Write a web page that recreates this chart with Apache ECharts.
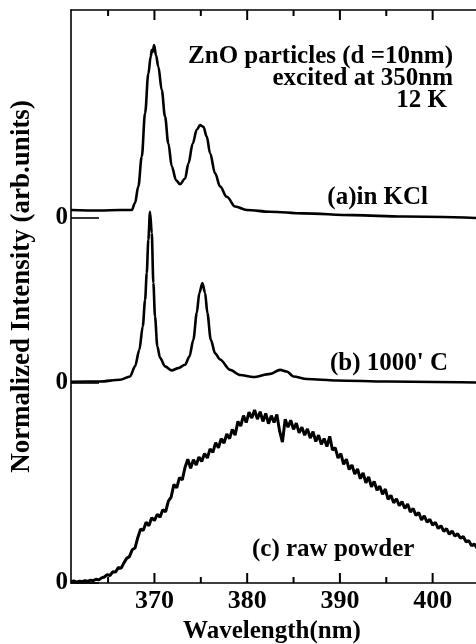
<!DOCTYPE html>
<html>
<head>
<meta charset="utf-8">
<script src="https://cdn.jsdelivr.net/npm/echarts@6/dist/echarts.min.js"></script>
<style>html,body{margin:0;padding:0;background:#fff}#chart{width:476px;height:644px}</style>
</head>
<body>
<div id="chart"></div>
<script>
// ---- data (wavelength nm, normalized intensity relative to each curve's own zero) ----
var offsets = [63.7, 35, 0];          // vertical offsets of curves (a), (b), (c)
var zeroLabels = ['0', '0', '0'];
var xMajorTicks = [370, 380, 390, 400];
var xMinorTicks = [365, 375, 385, 395];

var curveA = [
  [361.0,1.4],[364.1,1.3],[366.3,1.4],[367.55,1.4],[367.9,2.6],[368.26,5.5],[368.63,10.7],
  [368.99,18.3],[369.34,25.2],[369.6,28.2],[369.71,29.3],[369.82,29.0],[369.96,30.2],
  [370.17,28.4],[370.42,26.4],[370.79,22.3],[371.14,17.7],[371.5,13.0],[371.87,9.0],
  [372.33,6.6],[372.76,5.9],[373.3,6.9],[373.66,9.5],[374.13,13.0],[374.56,15.4],
  [374.92,16.2],[375.28,15.9],[375.64,14.2],[376.0,11.3],[376.54,7.8],[377.08,5.5],
  [377.8,3.7],[378.7,2.0],[379.96,1.4],[382.47,1.1],[386.04,0.8],[391.43,0.5],
  [396.83,0.25],[404.7,0.0]
];
var curveB = [
  [361.0,0.12],[364.13,0.17],[366.29,0.47],[367.37,1.05],[367.91,2.8],[368.37,5.7],
  [368.74,9.8],[368.99,14.4],[369.17,19.1],[369.34,24.9],[369.52,29.8],[369.71,26.1],
  [369.88,17.4],[370.06,11.5],[370.31,6.3],[370.6,4.3],[371.14,2.8],[371.87,2.1],
  [372.58,2.5],[373.3,3.1],[373.77,4.5],[374.2,7.5],[374.56,12.1],[374.84,15.6],
  [375.17,17.35],[375.46,15.6],[375.71,12.1],[376.07,7.5],[376.54,5.1],[377.08,4.0],
  [378.16,2.2],[379.24,1.3],[380.67,0.95],[382.47,1.5],[383.55,2.2],[384.28,1.9],
  [384.99,1.05],[386.43,0.6],[389.67,0.35],[395.07,0.17],[404.7,0.0]
];
var curveC = [
  [361.0,0.20],[361.3,0.35],[361.6,0.15],[361.9,0.30],[362.2,0.25],[362.5,0.40],[362.8,0.30],
  [363.1,0.50],[363.4,0.40],[363.7,0.65],[364.0,0.55],[364.3,0.90],[364.6,1.05],[364.9,1.45],
  [365.2,1.30],[365.5,1.95],[365.8,1.90],[366.1,2.70],[366.4,2.55],[366.7,3.50],[367.0,4.30],
  [367.3,4.60],[367.6,5.80],[367.9,6.10],[368.2,7.90],[368.5,9.40],[368.8,9.20],[369.1,10.60],
  [369.4,10.00],[369.7,11.40],[370.0,10.90],[370.3,12.00],[370.6,11.50],[370.9,12.80],
  [371.2,12.40],[371.5,14.30],[371.8,15.00],[372.1,17.20],[372.4,16.60],[372.7,18.40],
  [373.0,18.00],[373.3,20.20],[373.6,21.60],[373.9,20.00],[374.2,21.50],[374.5,20.60],
  [374.8,22.00],[375.1,21.20],[375.4,22.60],[375.7,21.80],[376.0,23.40],[376.3,22.80],
  [376.6,24.50],[376.9,23.60],[377.2,25.20],[377.5,24.40],[377.8,26.00],[378.1,25.20],
  [378.4,26.80],[378.7,25.80],[379.0,28.20],[379.3,27.40],[379.6,29.20],[379.9,28.00],
  [380.2,29.80],[380.5,28.80],[380.8,30.20],[381.1,28.60],[381.4,29.90],[381.7,28.20],
  [382.0,29.60],[382.3,27.80],[382.6,29.20],[382.9,28.00],[383.2,29.40],[383.5,26.50],
  [383.8,24.60],[384.1,28.60],[384.4,27.20],[384.7,28.40],[385.0,26.80],[385.3,27.90],
  [385.6,26.20],[385.9,27.20],[386.2,25.80],[386.5,26.90],[386.8,25.30],[387.1,26.40],
  [387.4,24.70],[387.7,25.80],[388.0,24.20],[388.3,25.20],[388.6,23.80],[388.9,25.60],
  [389.2,23.20],[389.5,23.60],[389.8,21.80],[390.1,22.60],[390.4,20.70],[390.7,21.60],
  [391.0,19.80],[391.3,20.60],[391.6,19.00],[391.9,19.90],[392.2,18.20],[392.5,19.20],
  [392.8,17.50],[393.1,18.50],[393.4,16.80],[393.7,17.70],[394.0,16.20],[394.3,16.90],
  [394.6,15.50],[394.9,16.40],[395.2,14.60],[395.5,15.30],[395.8,14.00],[396.1,14.70],
  [396.4,13.50],[396.7,14.20],[397.0,13.00],[397.3,13.80],[397.6,12.40],[397.9,13.00],
  [398.2,11.80],[398.5,12.30],[398.8,11.00],[399.1,11.70],[399.4,10.60],[399.7,11.10],
  [400.0,10.10],[400.3,10.60],[400.6,9.50],[400.9,10.00],[401.2,9.00],[401.5,9.50],
  [401.8,8.50],[402.1,9.10],[402.4,8.20],[402.7,8.60],[403.0,7.80],[403.3,8.10],
  [403.6,7.20],[403.9,7.40],[404.2,6.50],[404.5,6.80],[404.8,6.10]
];

var labelA = '(a)in KCl';
var labelB = "(b) 1000' C";
var labelC = '(c) raw powder';
var infoLines = ['ZnO particles (d =10nm)', 'excited at 350nm', '12 K'];

// ---- chart ----
var FONT = "'Liberation Serif', 'Times New Roman', serif";
var MAJOR_LEN = 10, MINOR_LEN = 6;
var Y_MIN = 0, Y_MAX = 100;
function shift(arr, off) { return arr.map(function (p) { return [p[0], p[1] + off]; }); }

var chart = echarts.init(document.getElementById('chart'), null, {renderer: 'canvas'});
function axLine() { return {show: true, lineStyle: {color: '#000', width: 1.6}}; }

// inward tick marks on bottom and top edges, placed through the x scale
function tickSeries(values, len) {
  return {
    type: 'custom', z: 5, silent: true,
    data: values.map(function (v) { return [v]; }),
    renderItem: function (params, api) {
      var b = api.coord([api.value(0), Y_MIN]);
      var t = api.coord([api.value(0), Y_MAX]);
      return {type: 'group', children: [
        {type: 'line', shape: {x1: b[0], y1: b[1], x2: b[0], y2: b[1] - len}, style: {stroke: '#000', lineWidth: 2}},
        {type: 'line', shape: {x1: t[0], y1: t[1], x2: t[0], y2: t[1] + len}, style: {stroke: '#000', lineWidth: 2}}
      ]};
    }
  };
}

var zeroVals = offsets.slice();
var option = {
  animation: false,
  backgroundColor: '#fff',
  grid: {left: 71, top: 10, width: 408, bottom: 61, containLabel: false, outerBoundsMode: 'none'},
  xAxis: [
    {
      type: 'value', position: 'bottom', min: 361, max: 405,
      axisLine: axLine(), splitLine: {show: false},
      axisTick: {show: false},
      axisLabel: {show: true, customValues: xMajorTicks, color: '#000', fontFamily: FONT, fontWeight: 'bold', fontSize: 26, margin: 5},
      name: 'Wavelength(nm)', nameLocation: 'middle', nameGap: 30,
      nameTextStyle: {color: '#000', fontFamily: FONT, fontWeight: 'bold', fontSize: 25, padding: [0, 6, 0, 0]}
    },
    {
      type: 'value', position: 'top', min: 361, max: 405,
      axisLine: axLine(), splitLine: {show: false}, axisTick: {show: false}, axisLabel: {show: false}
    }
  ],
  yAxis: {
    type: 'value', min: Y_MIN, max: Y_MAX, position: 'left',
    axisLine: axLine(), splitLine: {show: false},
    axisTick: {show: true, inside: true, length: 28, customValues: zeroVals, lineStyle: {color: '#000', width: 1.6}},
    axisLabel: {show: true, customValues: zeroVals, formatter: function (v) { return zeroLabels[offsets.indexOf(v)] || '0'; },
      color: '#000', fontFamily: FONT, fontWeight: 'bold', fontSize: 25, margin: 3},
    name: 'Normalized Intensity (arb.units)', nameLocation: 'middle', nameGap: 35,
    nameTextStyle: {color: '#000', fontFamily: FONT, fontWeight: 'bold', fontSize: 27, padding: [0, 0, 0, 20]}
  },
  series: [
    {type: 'line', name: labelA, data: shift(curveA, offsets[0]), showSymbol: false, symbol: 'none',
     smooth: 0.35, smoothMonotone: 'x', lineStyle: {color: '#000', width: 2.6}, z: 3},
    {type: 'line', name: labelB, data: shift(curveB, offsets[1]), showSymbol: false, symbol: 'none',
     smooth: 0.3, smoothMonotone: 'x', lineStyle: {color: '#000', width: 2.6}, z: 3},
    {type: 'line', name: labelC, data: shift(curveC, offsets[2]), showSymbol: false, symbol: 'none',
     lineStyle: {color: '#000', width: 3}, z: 3},
    tickSeries(xMajorTicks, MAJOR_LEN),
    tickSeries(xMinorTicks, MINOR_LEN)
  ],
  graphic: [
    {type: 'text', right: 476 - 453, top: 44, style: {text: infoLines[0], font: 'bold 25px ' + FONT, fill: '#000'}},
    {type: 'text', right: 476 - 453, top: 66, style: {text: infoLines[1], font: 'bold 25px ' + FONT, fill: '#000'}},
    {type: 'text', right: 476 - 447, top: 88, style: {text: infoLines[2], font: 'bold 25px ' + FONT, fill: '#000'}},
    {type: 'text', right: 476 - 428, top: 185, style: {text: labelA, font: 'bold 25px ' + FONT, fill: '#000'}},
    {type: 'text', left: 330, top: 351, style: {text: labelB, font: 'bold 25px ' + FONT, fill: '#000'}},
    {type: 'text', left: 252, top: 537, style: {text: labelC, font: 'bold 25px ' + FONT, fill: '#000'}}
  ]
};
chart.setOption(option);
</script>
</body>
</html>
